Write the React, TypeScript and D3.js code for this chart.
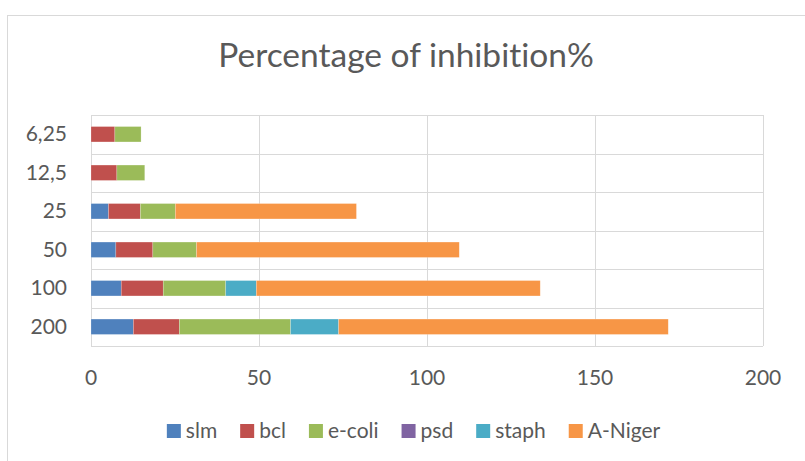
import React, { useEffect, useRef } from "react";
import * as d3 from "d3";

const categories = ["6,25", "12,5", "25", "50", "100", "200"];
const seriesNames = ["slm", "bcl", "e-coli", "psd", "staph", "A-Niger"];
const slm = [0, 0, 5.2, 7.4, 9.0, 12.6];
const bcl = [7.1, 7.7, 9.5, 11.0, 12.5, 13.7];
const ecoli = [7.8, 8.3, 10.4, 13.0, 18.6, 33.1];
const psd = [0, 0, 0, 0, 0, 0];
const staph = [0, 0, 0, 0, 9.1, 14.3];
const aniger = [0, 0, 53.9, 78.2, 84.5, 98.1];
const xTicks = [0, 50, 100, 150, 200];
const colors = ["#4F81BD", "#C0504D", "#9BBB59", "#8064A2", "#4BACC6", "#F79646"];
const title = "Percentage of inhibition%";

const W = 805;
const H = 461;
const FONT = "Lato, 'Open Sans', sans-serif";
const TXT = "#595959";

export default function App() {
  const ref = useRef<SVGSVGElement>(null);

  useEffect(() => {
    const svg = d3.select(ref.current);
    svg.selectAll("*").remove();
    svg.style("font-variant-ligatures", "none");

    const left = 91, right = 763, top = 115, bottom = 346;
    const x = d3.scaleLinear().domain([0, 200]).range([left, right]);
    const y = d3.scaleBand<string>().domain(categories).range([top, bottom]).paddingInner(0.6).paddingOuter(0.3);

    // chart frame
    svg.append("rect").attr("x", 7.5).attr("y", 15.5).attr("width", 820).attr("height", 460)
      .attr("fill", "#fff").attr("stroke", "#d9d9d9").attr("stroke-width", 1);

    // title
    svg.append("text").attr("x", 406).attr("y", 67).attr("text-anchor", "middle")
      .attr("font-family", FONT).attr("font-size", 33.5).attr("fill", TXT).text(title);

    // horizontal gridlines (category boundaries)
    svg.append("g").selectAll("line").data(d3.range(categories.length + 1)).join("line")
      .attr("x1", left).attr("x2", right)
      .attr("y1", (i) => Math.round(top + (i * (bottom - top)) / categories.length) + 0.5)
      .attr("y2", (i) => Math.round(top + (i * (bottom - top)) / categories.length) + 0.5)
      .attr("stroke", "#d9d9d9").attr("stroke-width", 1);

    // vertical gridlines
    svg.append("g").selectAll("line").data(xTicks).join("line")
      .attr("x1", (d) => Math.round(x(d)) + 0.5).attr("x2", (d) => Math.round(x(d)) + 0.5)
      .attr("y1", top).attr("y2", bottom)
      .attr("stroke", "#d9d9d9").attr("stroke-width", 1);

    // stacked bars
    const all = [slm, bcl, ecoli, psd, staph, aniger];
    const rows = categories.map((c, i) => {
      const o: any = { cat: c };
      seriesNames.forEach((s, j) => (o[s] = all[j][i]));
      return o;
    });
    const stack = d3.stack<any>().keys(seriesNames)(rows);
    svg.append("g").selectAll("g").data(stack).join("g")
      .attr("fill", (_, i) => colors[i])
      .selectAll("rect").data((d) => d.filter((p) => p[1] - p[0] > 0)).join("rect")
      .attr("x", (d) => x(d[0]))
      .attr("width", (d) => x(d[1]) - x(d[0]))
      .attr("y", (d) => y(d.data.cat)!)
      .attr("height", y.bandwidth())
      .attr("stroke", "rgba(255,255,255,0.35)").attr("stroke-width", 0.6);

    // y labels
    svg.append("g").selectAll("text").data(categories).join("text")
      .attr("x", 67).attr("y", (d) => y(d)! + y.bandwidth() / 2 + 7)
      .attr("text-anchor", "end").attr("font-family", FONT).attr("font-size", 21).attr("fill", TXT)
      .text((d) => d);

    // x labels
    svg.append("g").selectAll("text").data(xTicks).join("text")
      .attr("x", (d) => x(d)).attr("y", 385)
      .attr("text-anchor", "middle").attr("font-family", FONT).attr("font-size", 21).attr("fill", TXT)
      .text((d) => String(d));

    // legend
    const lg = svg.append("g");
    const items = seriesNames.map((s, i) => {
      const g = lg.append("g");
      g.append("rect").attr("x", 0).attr("y", 424).attr("width", 14).attr("height", 14).attr("fill", colors[i]);
      const t = g.append("text").attr("x", 19).attr("y", 438).attr("font-family", FONT)
        .attr("font-size", 21).attr("fill", TXT).text(s);
      const w = 19 + (t.node() as SVGTextElement).getComputedTextLength();
      return { g, w };
    });
    const gap = 23;
    const total = d3.sum(items, (d) => d.w) + gap * (items.length - 1);
    let cx = 413.5 - total / 2;
    items.forEach((it) => {
      it.g.attr("transform", `translate(${cx},0)`);
      cx += it.w + gap;
    });
  }, []);

  return (
    <svg ref={ref} width={W} height={H}
      style={{ position: "absolute", left: 0, top: 0, display: "block" }} />
  );
}
